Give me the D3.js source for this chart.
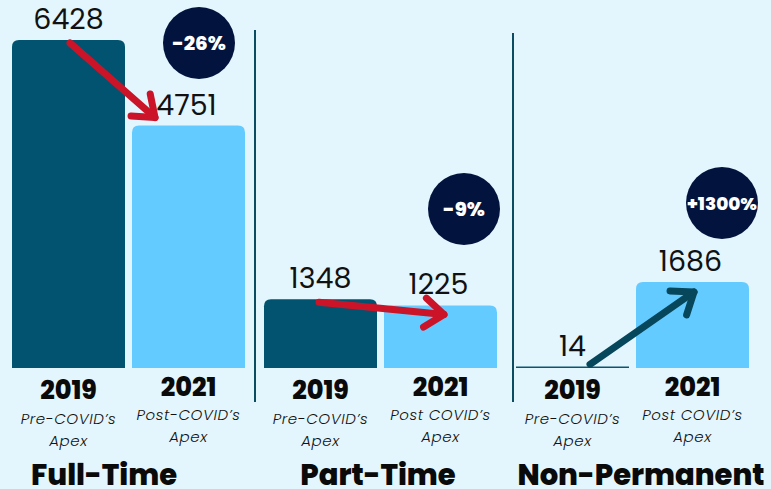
<!DOCTYPE html>
<html>
<head>
<meta charset="utf-8">
<script src="https://cdn.jsdelivr.net/npm/d3@7/dist/d3.min.js"></script>
<style>
html,body{margin:0;padding:0;background:#e3f6fe;}
svg{display:block;}
</style>
</head>
<body>
<svg id="chart" width="771" height="489"></svg>
<script>
// ---- data ----
const groups = ["Full-Time", "Part-Time", "Non-Permanent"];
const years = ["2019", "2021"];
const values2019 = [6428, 1348, 14];
const values2021 = [4751, 1225, 1686];
const changeLabels = ["-26%", "-9%", "+1300%"];
const subLabels2019 = [["Pre-COVID’s", "Apex"], ["Pre-COVID’s", "Apex"], ["Pre-COVID’s", "Apex"]];
const subLabels2021 = [["Post-COVID’s", "Apex"], ["Post COVID’s", "Apex"], ["Post COVID’s", "Apex"]];

const W = 771, H = 489;
const baseline = 368;
const svg = d3.select("#chart");
const FONT = "Poppins, 'DejaVu Sans', 'Noto Sans', sans-serif";

const x0 = d3.scaleBand().domain(groups).range([8, 764]).paddingInner(0).paddingOuter(0);
const x1 = d3.scaleBand().domain(years).range([4, 237]).paddingInner(7/120).paddingOuter(0);
const y = d3.scaleLinear().domain([0, 6428]).range([baseline, 40]);

const colors = {"2019": "#01536f", "2021": "#63cbff"};

const data = [];
groups.forEach((g, i) => {
  data.push({g, i, year: "2019", v: values2019[i]});
  data.push({g, i, year: "2021", v: values2021[i]});
});

function barPath(x, top, w, bottom, r) {
  const h = bottom - top;
  r = Math.min(r, h, w / 2);
  if (h < 3) return `M${x},${top}h${w}v${h}h${-w}z`;
  return `M${x},${bottom}V${top + r}Q${x},${top} ${x + r},${top}H${x + w - r}Q${x + w},${top} ${x + w},${top + r}V${bottom}Z`;
}

// bars
svg.append("g").selectAll("path").data(data).join("path")
  .attr("d", d => {
    const bx = x0(d.g) + x1(d.year);
    let top = y(d.v);
    if (baseline - top < 1.5) top = baseline - 1.5;
    return barPath(bx, top, x1.bandwidth(), baseline, 7);
  })
  .attr("fill", d => d.v < 100 ? "#0b566f" : colors[d.year]);

// dividers
const dividerX = [x0(groups[1]) - 5, x0(groups[2]) + 1];
const dividerTop = [30, 33];
dividerX.forEach((dx, k) => {
  svg.append("line").attr("x1", dx).attr("x2", dx).attr("y1", dividerTop[k]).attr("y2", 402)
    .attr("stroke", "#0b4c62").attr("stroke-width", 2);
});

// value labels
svg.append("g").selectAll("text").data(data).join("text")
  .attr("x", d => x0(d.g) + x1(d.year) + x1.bandwidth() / 2 + (d.year === "2021" ? -2 : 0))
  .attr("y", d => y(d.v) - 11)
  .attr("text-anchor", "middle")
  .attr("font-family", FONT)
  .attr("font-size", 28.5)
  .attr("font-weight", 400)
  .attr("fill", "#111")
  .text(d => d.v);

// year labels
svg.append("g").selectAll("text").data(data).join("text")
  .attr("x", d => x0(d.g) + x1(d.year) + x1.bandwidth() / 2)
  .attr("y", d => d.year === "2019" ? 399 : 396)
  .attr("text-anchor", "middle")
  .attr("font-family", FONT)
  .attr("font-size", 25.5)
  .attr("font-weight", 800)
  .attr("fill", "#0a0a0a")
  .text(d => d.year);

// sub labels
data.forEach(d => {
  const lines = d.year === "2019" ? subLabels2019[d.i] : subLabels2021[d.i];
  const cx = x0(d.g) + x1(d.year) + x1.bandwidth() / 2;
  const y0 = d.year === "2019" ? 424 : 420;
  lines.forEach((t, k) => {
    svg.append("text")
      .attr("x", cx).attr("y", y0 + k * 22)
      .attr("text-anchor", "middle")
      .attr("font-family", FONT)
      .attr("font-size", 15)
      .attr("font-style", "italic")
      .attr("font-weight", 300)
      .attr("letter-spacing", 0.6)
      .attr("fill", "#111")
      .text(t);
  });
});

// group titles
const titleX = [104, 378, 641];
svg.append("g").selectAll("text").data(groups).join("text")
  .attr("x", (g, i) => titleX[i])
  .attr("y", 485)
  .attr("text-anchor", "middle")
  .attr("font-family", FONT)
  .attr("font-size", 29)
  .attr("font-weight", 800)
  .attr("fill", "#0a0a0a")
  .text(g => g);

// badges
const badgeCenters = [[199, 43], [464, 209], [722, 203]];
groups.forEach((g, i) => {
  const [cx, cy] = badgeCenters[i];
  const long = changeLabels[i].length > 4;
  svg.append("circle").attr("cx", cx).attr("cy", cy).attr("r", 36).attr("fill", "#02133e");
  svg.append("text").attr("x", cx).attr("y", cy + (long ? 6.5 : 7))
    .attr("text-anchor", "middle")
    .attr("font-family", FONT)
    .attr("font-size", long ? 17 : 20)
    .attr("font-weight", 800)
    .attr("fill", "#fff")
    .attr("textLength", long ? 70 : null)
    .attr("lengthAdjust", "spacingAndGlyphs")
    .text(changeLabels[i]);
});

// arrows
function arrow(xa, ya, xb, yb, color) {
  const g = svg.append("g").attr("stroke", color).attr("fill", "none")
    .attr("stroke-width", 7).attr("stroke-linecap", "round").attr("stroke-linejoin", "round");
  const ang = Math.atan2(yb - ya, xb - xa);
  const L = 24, spread = 0.65;
  g.append("line").attr("x1", xa).attr("y1", ya).attr("x2", xb).attr("y2", yb);
  g.append("path").attr("d",
    `M${xb - L * Math.cos(ang - spread)},${yb - L * Math.sin(ang - spread)}L${xb},${yb}L${xb - L * Math.cos(ang + spread)},${yb - L * Math.sin(ang + spread)}`);
}
const arrowSpecs = [
  {i: 0, color: "#cc1429", dx0: 58, dy0: 3, dx1: 23, dy1: -8},
  {i: 1, color: "#cc1429", dx0: 55, dy0: 3, dx1: 60, dy1: 9},
  {i: 2, color: "#07475b", dx0: 74, dy0: -3, dx1: 58, dy1: 10}
];
arrowSpecs.forEach(s => {
  const g = groups[s.i];
  const xa = x0(g) + x1("2019") + s.dx0;
  const ya = Math.min(y(values2019[s.i]), baseline) + s.dy0;
  const xb = x0(g) + x1("2021") + s.dx1;
  const yb = y(values2021[s.i]) + s.dy1;
  arrow(xa, ya, xb, yb, s.color);
});
</script>
</body>
</html>
